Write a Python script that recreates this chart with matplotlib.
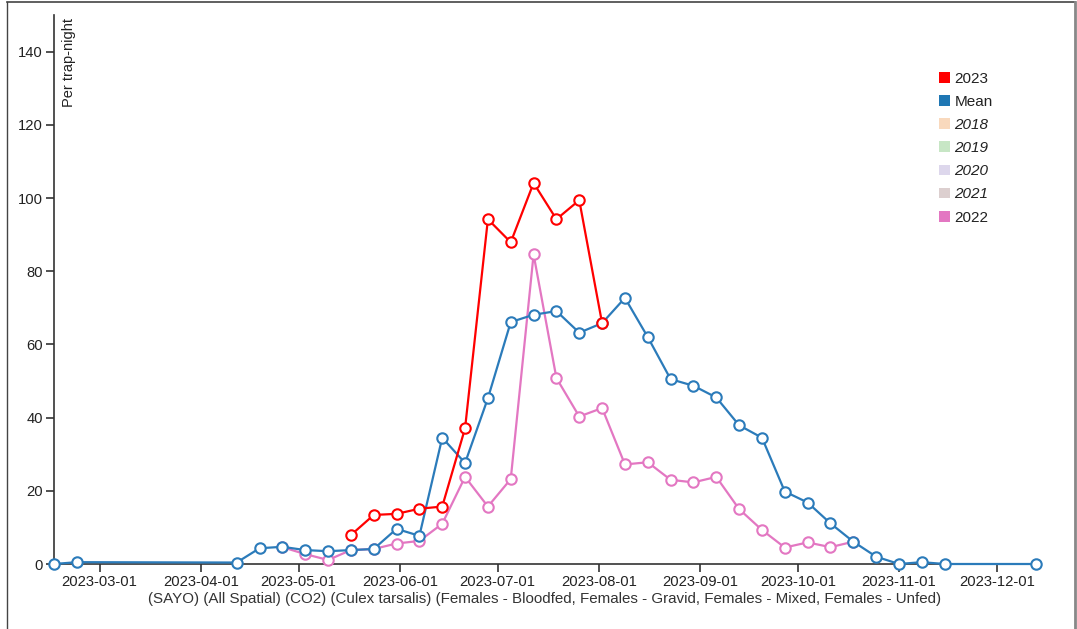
import matplotlib
matplotlib.use("Agg")
import matplotlib.pyplot as plt
import matplotlib.dates as mdates
from matplotlib.lines import Line2D
from matplotlib.patches import Patch
import pandas as pd

plt.rcParams['font.family'] = ['Liberation Sans', 'DejaVu Sans']

# Fechas semanales de la media
mean_dates = ["2023-02-15", "2023-02-22", "2023-04-12", "2023-04-19", "2023-04-26",
              "2023-05-03", "2023-05-10", "2023-05-17", "2023-05-24", "2023-05-31",
              "2023-06-07", "2023-06-14", "2023-06-21", "2023-06-28", "2023-07-05",
              "2023-07-12", "2023-07-19", "2023-07-26", "2023-08-02", "2023-08-09",
              "2023-08-16", "2023-08-23", "2023-08-30", "2023-09-06", "2023-09-13",
              "2023-09-20", "2023-09-27", "2023-10-04", "2023-10-11", "2023-10-18",
              "2023-10-25", "2023-11-01", "2023-11-08", "2023-11-15", "2023-12-13"]
mean_values = [0.0, 0.5, 0.4, 4.3, 4.7, 3.8, 3.5, 3.8, 4.1, 9.6,
               7.7, 34.5, 27.6, 45.3, 66.1, 68.1, 69.1, 63.2, 65.8, 72.7,
               62.0, 50.5, 48.7, 45.5, 37.9, 34.5, 19.8, 16.8, 11.1, 6.1,
               2.0, 0.0, 0.5, 0.0, 0.0]

dates_2023 = ["2023-05-17", "2023-05-24", "2023-05-31", "2023-06-07", "2023-06-14",
              "2023-06-21", "2023-06-28", "2023-07-05", "2023-07-12", "2023-07-19",
              "2023-07-26", "2023-08-02"]
values_2023 = [7.9, 13.4, 13.7, 15.1, 15.7, 37.1, 94.2, 87.9, 104.1, 94.2, 99.4, 65.8]

dates_2022 = ["2023-04-26", "2023-05-03", "2023-05-10", "2023-05-17", "2023-05-24",
              "2023-05-31", "2023-06-07", "2023-06-14", "2023-06-21", "2023-06-28",
              "2023-07-05", "2023-07-12", "2023-07-19", "2023-07-26", "2023-08-02",
              "2023-08-09", "2023-08-16", "2023-08-23", "2023-08-30", "2023-09-06",
              "2023-09-13", "2023-09-20", "2023-09-27", "2023-10-04", "2023-10-11",
              "2023-10-18"]
values_2022 = [4.6, 2.7, 1.1, 3.8, 4.1, 5.6, 6.3, 11.0, 23.8, 15.7,
               23.2, 84.6, 50.8, 40.3, 42.6, 27.2, 27.8, 23.0, 22.3, 23.8,
               15.0, 9.3, 4.5, 5.9, 4.6, 6.1]

legend_labels = ["2023", "Mean", "2018", "2019", "2020", "2021", "2022"]
legend_colors = ["#ff0000", "#1f77b4", "#f9d9bd", "#c7e6c5", "#ddd7ec", "#dccfcf", "#e377c2"]
hidden_years = ["2018", "2019", "2020", "2021"]

month_ticks = ["2023-03-01", "2023-04-01", "2023-05-01", "2023-06-01", "2023-07-01",
               "2023-08-01", "2023-09-01", "2023-10-01", "2023-11-01", "2023-12-01"]
y_ticks = [0, 20, 40, 60, 80, 100, 120, 140]

fig = plt.figure(figsize=(10.77, 6.29), dpi=100)
ax = fig.add_axes([54 / 1077, 1 - 564 / 629, (1036 - 54) / 1077, (564 - 15) / 629])

def draw(dates, values, color, z):
    ax.plot(pd.to_datetime(dates), values, color=color, lw=1.6, marker="o",
            markersize=7.5, markerfacecolor="white", markeredgecolor=color,
            markeredgewidth=1.5, zorder=z, clip_on=False)

draw(dates_2022, values_2022, "#e377c2", 3)
draw(mean_dates, mean_values, "#2b7bba", 4)
draw(dates_2023, values_2023, "#ff0000", 5)

ax.set_xlim(pd.Timestamp("2023-02-15"), pd.Timestamp("2023-12-13"))
ax.set_ylim(0, 150)
ax.set_xticks(pd.to_datetime(month_ticks))
ax.xaxis.set_major_formatter(mdates.DateFormatter("%Y-%m-%d"))
ax.set_yticks(y_ticks)

for s in ["top", "right"]:
    ax.spines[s].set_visible(False)
for s in ["left", "bottom"]:
    ax.spines[s].set_color("#333333")
    ax.spines[s].set_linewidth(1.2)
ax.tick_params(length=6, width=1.2, color="#333333", labelsize=10.6,
               labelcolor="#222222", pad=2)

ax.set_xlabel("(SAYO) (All Spatial) (CO2) (Culex tarsalis) (Females - Bloodfed, "
              "Females - Gravid, Females - Mixed, Females - Unfed)",
              fontsize=10.9, color="#333333", labelpad=2)
ax.text(0.008, 0.995, "Per trap-night", transform=ax.transAxes, rotation=90,
        ha="left", va="top", fontsize=10.5, color="#222222")

# Leyenda
handles = [Patch(facecolor=c, edgecolor="none") for c in legend_colors]
leg = ax.legend(handles, legend_labels, loc="upper left", bbox_to_anchor=(0.895, 0.908),
                frameon=False, fontsize=11, handlelength=0.7, handleheight=0.7,
                handletextpad=0.3, labelspacing=0.6, borderaxespad=0)
for t in leg.get_texts():
    t.set_color("#222222")
    if t.get_text() in hidden_years:
        t.set_style("italic")

# Marco de la figura
fig.add_artist(Line2D([7 / 1077, 7 / 1077], [0, 1 - 1.5 / 629], color="#444444", lw=1))
fig.add_artist(Line2D([7 / 1077, 1075 / 1077], [1 - 1.5 / 629, 1 - 1.5 / 629],
                      color="#444444", lw=1.2))
fig.add_artist(Line2D([1075 / 1077, 1075 / 1077], [0, 1 - 1.5 / 629], color="#888888", lw=2))

fig.savefig("out.png", dpi=100)
